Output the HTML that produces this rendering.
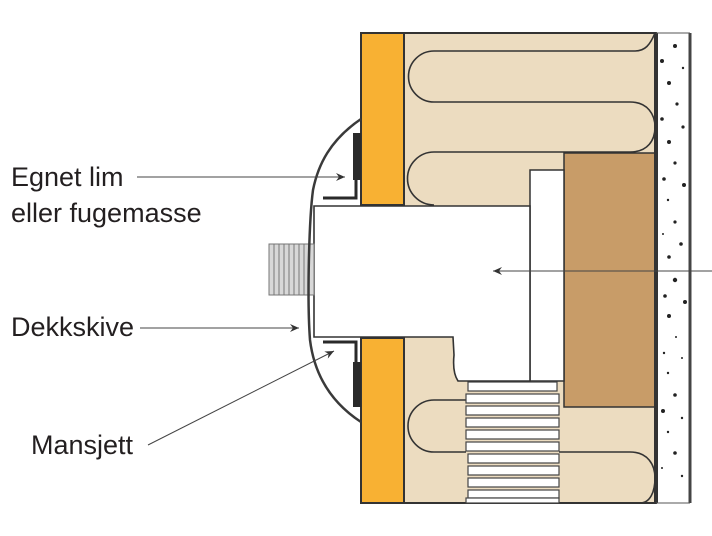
<!DOCTYPE html>
<html><head><meta charset="utf-8"><style>
html,body{margin:0;padding:0;background:#fff;width:712px;height:536px;overflow:hidden}
svg{display:block}
text{font-family:"Liberation Sans",sans-serif;font-size:27px;fill:#231f20}
</style></head><body>
<svg width="712" height="536" viewBox="0 0 712 536" xmlns="http://www.w3.org/2000/svg">
<defs>
<marker id="ah" markerWidth="10" markerHeight="8" refX="9" refY="4" orient="auto" markerUnits="userSpaceOnUse">
<path d="M0,0 L9,4 L0,8 L3,4 Z" fill="#333"/></marker>
</defs>
<rect x="404" y="33" width="252" height="470" fill="#ecdcc0" stroke="#333" stroke-width="2"/>
<g fill="none" stroke="#333" stroke-width="1.6">
<path d="M655,33 C650,45 645,51 635,51 L434,51 A25.5,25.5 0 0 0 434,102 L630,102 C648,102 655,115 655,127 C655,140 648,152 630,152 L434,152 A26.5,26.5 0 0 0 434,205"/>
<path d="M466,400 L434,400 A26,26 0 0 0 434,452 L466,452"/>
<path d="M559,452 L630,452 C648,452 655,465 655,478 C655,492 650,503 640,503"/>
</g>
<rect x="361" y="33" width="43" height="172" fill="#f8b133" stroke="#333" stroke-width="2"/>
<rect x="361" y="338" width="43" height="165" fill="#f8b133" stroke="#333" stroke-width="2"/>
<rect x="564" y="153" width="91" height="254" fill="#c89c68" stroke="#333" stroke-width="1.5"/>
<rect x="530" y="170" width="34" height="211" fill="#fff" stroke="#333" stroke-width="1.5"/>
<g fill="#fff" stroke="#444" stroke-width="1.2">
<rect x="468" y="382" width="89" height="9"/>
<rect x="466" y="394" width="93" height="9"/>
<rect x="466" y="406" width="93" height="9"/>
<rect x="466" y="418" width="93" height="9"/>
<rect x="466" y="430" width="93" height="9"/>
<rect x="466" y="442" width="93" height="9"/>
<rect x="468" y="454" width="91" height="9"/>
<rect x="468" y="466" width="91" height="9"/>
<rect x="468" y="478" width="91" height="9"/>
<rect x="468" y="490" width="91" height="8"/>
<rect x="466" y="498" width="93" height="5"/>
</g>
<path d="M314,206 L530,206 L530,381 L458,381 C454,375 453,365 454,355 L453,337 L314,337 Z" fill="#fff" stroke="#333" stroke-width="1.6"/>
<rect x="657" y="33" width="33" height="470" fill="#fff"/>
<line x1="656" y1="33" x2="656" y2="503" stroke="#333" stroke-width="4"/>
<line x1="690" y1="33" x2="690" y2="503" stroke="#444" stroke-width="3"/>
<line x1="656" y1="33" x2="690" y2="33" stroke="#555" stroke-width="1"/>
<line x1="656" y1="503" x2="690" y2="503" stroke="#555" stroke-width="1"/>
<g fill="#222">
<circle cx="675" cy="46" r="2"/><circle cx="662" cy="61" r="2"/><circle cx="683" cy="68" r="1.2"/>
<circle cx="669" cy="83" r="2"/><circle cx="677" cy="104" r="1.6"/><circle cx="662" cy="119" r="1.8"/>
<circle cx="683" cy="127" r="1.6"/><circle cx="669" cy="142" r="2"/><circle cx="675" cy="163" r="1.6"/>
<circle cx="664" cy="179" r="1.8"/><circle cx="684" cy="185" r="2"/><circle cx="668" cy="200" r="1.2"/>
<circle cx="675" cy="222" r="1.6"/><circle cx="663" cy="234" r="1"/><circle cx="681" cy="244" r="1.8"/>
<circle cx="669" cy="257" r="1.8"/><circle cx="675" cy="280" r="2.2"/><circle cx="665" cy="296" r="1.8"/>
<circle cx="685" cy="302" r="2"/><circle cx="669" cy="316" r="2"/><circle cx="676" cy="337" r="1"/>
<circle cx="664" cy="353" r="1.2"/><circle cx="682" cy="358" r="1"/><circle cx="668" cy="373" r="1.2"/>
<circle cx="675" cy="395" r="1.8"/><circle cx="663" cy="411" r="2"/><circle cx="682" cy="418" r="1.2"/>
<circle cx="668" cy="432" r="1.2"/><circle cx="675" cy="453" r="1.8"/><circle cx="662" cy="468" r="1"/>
<circle cx="682" cy="476" r="1.2"/>
</g>
<rect x="269" y="244" width="45" height="51" fill="#d8d8d8" stroke="#777" stroke-width="1"/>
<g stroke="#777" stroke-width="1">
<line x1="274" y1="244" x2="274" y2="295"/><line x1="279" y1="244" x2="279" y2="295"/>
<line x1="284" y1="244" x2="284" y2="295"/><line x1="289" y1="244" x2="289" y2="295"/>
<line x1="294" y1="244" x2="294" y2="295"/><line x1="299" y1="244" x2="299" y2="295"/>
<line x1="304" y1="244" x2="304" y2="295"/><line x1="309" y1="244" x2="309" y2="295"/>
</g>
<path d="M361,119 C330,140 318,165 313,190 C309,220 307,300 310,340 C315,380 335,405 361,422" fill="none" stroke="#3a3a3a" stroke-width="2.5"/>
<rect x="353" y="133" width="8" height="47" fill="#2a2a2a"/>
<path d="M323,198 L356,198 L356,180" fill="none" stroke="#2a2a2a" stroke-width="3"/>
<rect x="353" y="362" width="8" height="45" fill="#2a2a2a"/>
<path d="M323,342 L356,342 L356,362" fill="none" stroke="#2a2a2a" stroke-width="3"/>
<g stroke="#444" stroke-width="1" fill="none">
<line x1="137" y1="177" x2="345" y2="177" marker-end="url(#ah)"/>
<line x1="140" y1="328" x2="299" y2="328" marker-end="url(#ah)"/>
<line x1="148" y1="445" x2="334" y2="351" marker-end="url(#ah)"/>
<line x1="712" y1="271" x2="493" y2="271" marker-end="url(#ah)"/>
</g>
<text x="11" y="186">Egnet lim</text>
<text x="11" y="222">eller fugemasse</text>
<text x="11" y="336">Dekkskive</text>
<text x="31" y="454">Mansjett</text>
</svg>
</body></html>
